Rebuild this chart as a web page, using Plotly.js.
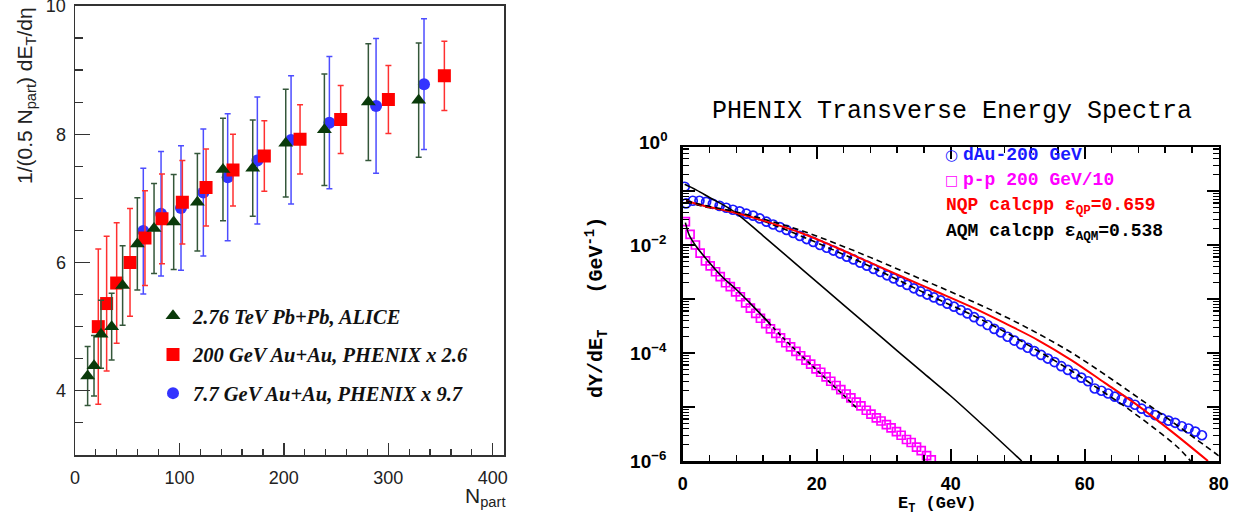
<!DOCTYPE html>
<html><head><meta charset="utf-8">
<script src="https://cdn.plot.ly/plotly-3.0.1.min.js"></script>
<style>html,body{margin:0;padding:0;background:#fff}#plot{width:1240px;height:516px}</style>
</head><body><div id="plot"></div>
<script>
// ---------- Left panel data ----------
const aliceNpart = [12.1,18.2,24.9,35.1,45.6,59.7,75.7,94.5,117.2,141.7,170.2,201.8,238.8,280.9,329.1];
const aliceVal   = [4.23,4.39,4.88,5.00,5.64,6.29,6.53,6.63,6.94,7.45,7.47,7.86,8.07,8.50,8.53];
const aliceErr   = [0.46,0.47,0.53,0.52,0.62,0.72,0.70,0.74,0.76,0.80,0.75,0.84,0.87,0.91,0.89];

const phx200Npart = [22.3,30.3,39.9,52.7,67.0,83.3,102.8,125.5,151.3,181.3,215.5,254.4,300.1,353.7];
const phx200Val   = [5.00,5.36,5.68,6.00,6.38,6.68,6.94,7.17,7.44,7.66,7.92,8.23,8.54,8.91];
const phx200Err   = [1.21,1.05,0.94,0.84,0.74,0.70,0.65,0.60,0.56,0.55,0.54,0.53,0.53,0.54];

const phx77Npart = [65.4,82.4,101.5,122.9,146.2,174.6,206.9,243.6,288.3,334.2];
const phx77Val   = [6.49,6.76,6.85,7.09,7.33,7.59,7.91,8.18,8.44,8.78];
const phx77Err   = [0.98,0.97,0.97,0.99,0.99,0.99,1.00,1.03,1.05,1.02];

const leftNames = ['2.76 TeV Pb+Pb, ALICE','200 GeV Au+Au, PHENIX x 2.6','7.7 GeV Au+Au, PHENIX x 9.7'];

// ---------- Right panel data ----------
const dAuET = [0.3,0.5,1.5,2.5,3.5,4.5,5.5,6.5,7.5,8.5,9.5,10.5,11.5,12.5,13.5,14.5,15.5,16.5,17.5,18.5,19.5,
  20.5,21.5,22.5,23.5,24.5,25.5,26.5,27.5,28.5,29.5,30.5,31.5,32.5,33.5,34.5,35.5,36.5,37.5,38.5,39.5,
  40.5,41.5,42.5,43.5,44.5,45.5,46.5,47.5,48.5,49.5,50.5,51.5,52.5,53.5,54.5,55.5,56.5,57.5,58.5,59.5,
  60.5,61.5,62.5,63.5,64.5,65.5,66.5,67.5,68.5,69.5,70.5,71.5,72.5,73.5,74.5,75.5,76.5,77.5];
const dAuY = [1.2e-1,5.9e-2,6.6e-2,6.6e-2,6.3e-2,5.8e-2,5.3e-2,4.9e-2,4.5e-2,4.2e-2,3.8e-2,3.5e-2,3.1e-2,2.7e-2,2.4e-2,2.15e-2,1.9e-2,1.67e-2,1.47e-2,1.29e-2,1.14e-2,
  1.0e-2,8.9e-3,7.9e-3,6.95e-3,6.1e-3,5.4e-3,4.7e-3,4.15e-3,3.6e-3,3.16e-3,2.75e-3,2.4e-3,2.1e-3,1.82e-3,1.58e-3,1.38e-3,1.21e-3,1.07e-3,9.4e-4,8.2e-4,
  7.2e-4,6.25e-4,5.4e-4,4.6e-4,3.9e-4,3.3e-4,2.8e-4,2.4e-4,2.0e-4,1.7e-4,1.45e-4,1.25e-4,1.08e-4,9.2e-5,7.9e-5,6.8e-5,5.7e-5,4.85e-5,4.1e-5,3.5e-5,
  3.0e-5,2.2e-5,2.0e-5,1.78e-5,1.55e-5,1.38e-5,1.23e-5,1.1e-5,9.3e-6,8.1e-6,7.1e-6,6.2e-6,5.6e-6,5.1e-6,4.4e-6,4.0e-6,3.5e-6,3.0e-6];

const ppET = [0.4,1.1,1.9,2.6,3.4,4.1,4.9,5.6,6.4,7.1,7.9,8.6,9.4,10.1,10.9,11.6,12.4,13.1,13.9,14.6,15.4,16.1,16.9,17.6,18.4,
  19.1,19.9,20.6,21.4,22.1,22.9,23.6,24.4,25.1,25.9,26.6,27.4,28.1,28.9,29.6,30.4,31.1,31.9,32.6,33.4,34.1,34.9,35.6,36.4,37.1];
const ppY = [2.7e-2,1.58e-2,1.0e-2,7.1e-3,5.1e-3,4.1e-3,3.2e-3,2.6e-3,2.0e-3,1.7e-3,1.35e-3,1.1e-3,8.5e-4,6.8e-4,5.4e-4,4.4e-4,3.5e-4,2.8e-4,2.3e-4,1.9e-4,1.55e-4,1.3e-4,1.07e-4,8.9e-5,7.4e-5,
  6.2e-5,5.1e-5,4.4e-5,3.6e-5,3.0e-5,2.5e-5,2.1e-5,1.74e-5,1.48e-5,1.23e-5,1.05e-5,8.7e-6,7.4e-6,6.3e-6,5.5e-6,4.7e-6,4.1e-6,3.5e-6,3.0e-6,2.5e-6,2.2e-6,1.8e-6,1.55e-6,1.26e-6,1.05e-6];

const nqpET = [0.5,3,8,13,18,23,28,33,38,43,48,53,58,63,68,73,78.4];
const nqpY  = [6.6e-2,5.4e-2,3.9e-2,2.6e-2,1.62e-2,8.9e-3,4.7e-3,2.5e-3,1.35e-3,7.2e-4,3.6e-4,1.74e-4,7.4e-5,2.8e-5,1.05e-5,3.5e-6,1.0e-6];

const aqmUpET = [0.5,3,8,13,18,23,28,33,38,43,48,53,58,63,68,73,78,80.2];
const aqmUpY  = [6.6e-2,5.5e-2,4.1e-2,2.8e-2,1.8e-2,1.05e-2,5.9e-3,3.2e-3,1.74e-3,9.3e-4,4.8e-4,2.3e-4,1.02e-4,4.0e-5,1.48e-5,5.4e-6,1.9e-6,1.2e-6];

const aqmLoET = [0.5,3,8,13,18,23,28,33,38,43,48,53,58,62,66,70,74,75.8];
const aqmLoY  = [6.3e-2,5.2e-2,4.0e-2,2.5e-2,1.41e-2,7.6e-3,4.0e-3,2.0e-3,1.0e-3,5.2e-4,2.5e-4,1.1e-4,4.7e-5,2.2e-5,1.02e-5,4.4e-6,1.74e-6,1.0e-6];

const steepET = [0.3,2,4,7.5,12,18,24,30,36,40,45,50.6];
const steepY  = [1.33e-1,1.05e-1,7.6e-2,4.3e-2,1.48e-2,3.4e-3,7.8e-4,1.8e-4,4.2e-5,1.6e-5,4.4e-6,1.0e-6];

const ppSolidET = [0.4,1,2,4,6,8,10,13];
const ppSolidY  = [2.6e-2,1.5e-2,9.5e-3,4.7e-3,2.5e-3,1.5e-3,8.5e-4,3.5e-4];

const ppDashET = [12,15,18,21,24,26];
const ppDashY  = [4.7e-4,1.9e-4,8.3e-5,3.7e-5,1.66e-5,9.5e-6];

const rightLegend = ['dAu-200 GeV','p-p 200 GeV/10','NQP calcpp ε<sub>QP</sub>=0.659','AQM calcpp ε<sub>AQM</sub>=0.538'];
const rightYTicks = [1e-6,1e-5,1e-4,1e-3,1e-2,1e-1];
const rightYTickText = ['10<sup>−6</sup>','','10<sup>−4</sup>','','10<sup>−2</sup>',''];

// ---------- geometry helpers (pixel -> paper) ----------
const W = 1240, H = 516;
const px = v => v / W, py = v => 1 - v / H;

const ebar = (arr, col) => ({type:'data', array: arr, visible:true, color: col, thickness:1.5, width:3});

const traces = [
  {x: phx77Npart, y: phx77Val, error_y: ebar(phx77Err,'#4d4dff'), mode:'markers', type:'scatter',
   name: leftNames[2], legendrank: 3, legendgroup:'c',
   marker:{symbol:'circle', size:12, color:'#3333ff'}, xaxis:'x', yaxis:'y'},
  {x: phx200Npart, y: phx200Val, error_y: ebar(phx200Err,'#ff3030'), mode:'markers', type:'scatter',
   name: leftNames[1], legendrank: 2, legendgroup:'b',
   marker:{symbol:'square', size:13, color:'#ff0000'}, xaxis:'x', yaxis:'y'},
  {x: aliceNpart, y: aliceVal, error_y: ebar(aliceErr,'#34573a'), mode:'markers', type:'scatter',
   name: leftNames[0], legendrank: 1, legendgroup:'a',
   marker:{symbol:'triangle-up', size:13, color:'#0a3a0a'}, xaxis:'x', yaxis:'y'},

  {x: dAuET, y: dAuY, mode:'markers', type:'scatter', showlegend:false, xaxis:'x2', yaxis:'y2',
   marker:{symbol:'circle-open', size:9, color:'#1a1aff', line:{width:1.7}}},
  {x: ppET, y: ppY, mode:'markers', type:'scatter', showlegend:false, xaxis:'x2', yaxis:'y2',
   marker:{symbol:'square-open', size:8, color:'#ff00ff', line:{width:1.7}}},
  {x: steepET, y: steepY, mode:'lines', type:'scatter', showlegend:false, xaxis:'x2', yaxis:'y2',
   line:{color:'#000', width:1.6, shape:'spline'}},
  {x: ppSolidET, y: ppSolidY, mode:'lines', type:'scatter', showlegend:false, xaxis:'x2', yaxis:'y2',
   line:{color:'#000', width:1.6, shape:'spline'}},
  {x: ppDashET, y: ppDashY, mode:'lines', type:'scatter', showlegend:false, xaxis:'x2', yaxis:'y2',
   line:{color:'#000', width:1.6, dash:'4px,3px', shape:'spline'}},
  {x: aqmLoET, y: aqmLoY, mode:'lines', type:'scatter', showlegend:false, xaxis:'x2', yaxis:'y2',
   line:{color:'#000', width:1.6, dash:'6px,4px', shape:'spline'}},
  {x: nqpET, y: nqpY, mode:'lines', type:'scatter', showlegend:false, xaxis:'x2', yaxis:'y2',
   line:{color:'#ff0000', width:2, shape:'spline'}},
  {x: aqmUpET, y: aqmUpY, mode:'lines', type:'scatter', showlegend:false, xaxis:'x2', yaxis:'y2',
   line:{color:'#000', width:1.6, dash:'6px,4px', shape:'spline'}},
];

const rightYMinor = [];
for (let d = -6; d <= -1; d++) for (let m = 2; m <= 9; m++) rightYMinor.push(m * Math.pow(10, d));

const sans = 'Liberation Sans, Arial, sans-serif';
const mono = 'Liberation Mono, Courier New, monospace';

const layout = {
  width: W, height: H, margin:{l:0,r:0,t:0,b:0}, paper_bgcolor:'#fff', plot_bgcolor:'#fff',
  showlegend: true,
  legend: {x: px(153), y: py(296), xanchor:'left', yanchor:'top', bgcolor:'rgba(0,0,0,0)',
    font:{family:'Liberation Serif, Times New Roman, serif', size:20.5, weight:'bold', style:'italic', color:'#111'},
    tracegroupgap: 9, itemwidth: 30, traceorder:'grouped'},
  xaxis: {domain:[px(75), px(504)], range:[0, 410.8], anchor:'y', showgrid:false, zeroline:false,
    showline:true, mirror:true, linecolor:'#333', linewidth:1.5,
    ticks:'inside', ticklen:12, tickwidth:1.3, tickcolor:'#333', dtick:100, tick0:0,
    minor:{dtick:20, ticklen:6, ticks:'inside', tickcolor:'#333', tickwidth:1.2},
    tickfont:{family:sans, size:18, color:'#222'}, ticklabelstandoff:6},
  yaxis: {domain:[1-455/H, 1-5.7/H], range:[2.999, 10.003], anchor:'x', showgrid:false, zeroline:false,
    showline:true, mirror:true, linecolor:'#333', linewidth:1.5,
    ticks:'inside', ticklen:15, tickwidth:1.3, tickcolor:'#333', tickmode:'array', tickvals:[4,6,8,10],
    minor:{tickmode:'array', tickvals:[3.5,4.5,5,5.5,6.5,7,7.5,8.5,9,9.5], ticklen:8, ticks:'inside', tickcolor:'#333', tickwidth:1.2},
    tickfont:{family:sans, size:18, color:'#222'}, ticklabelstandoff:4, ticklabeloverflow:'allow'},
  xaxis2: {domain:[px(682.7), px(1218.7)], range:[0, 80], anchor:'y2', showgrid:false, zeroline:false,
    showline:true, mirror:'allticks', linecolor:'#000', linewidth:2.5,
    ticks:'inside', ticklen:12, tickwidth:2, tickcolor:'#000', dtick:20, tick0:0,
    minor:{dtick:4, ticklen:6, ticks:'inside', tickcolor:'#000', tickwidth:1.5},
    tickfont:{family:sans, size:18, color:'#000', weight:'bold'}, ticklabelstandoff:5},
  yaxis2: {domain:[1-461/H, 1-147/H], type:'log', range:[-6, -0.185], anchor:'x2', showgrid:false, zeroline:false,
    showline:true, mirror:'allticks', linecolor:'#000', linewidth:2.5,
    ticks:'inside', ticklen:12, tickwidth:2, tickcolor:'#000',
    tickmode:'array', tickvals: rightYTicks, ticktext: rightYTickText,
    minor:{tickmode:'array', tickvals: rightYMinor, ticklen:6, ticks:'inside', tickcolor:'#000', tickwidth:1.3},
    tickfont:{family:sans, size:19, color:'#000', weight:'bold'}, ticklabelstandoff:10},
  annotations: [
    {text:'1/(0.5 N<sub>part</sub>) dE<sub>T</sub>/dη', xref:'paper', yref:'paper', x:px(26), y:py(96),
     xanchor:'center', yanchor:'middle', textangle:-90, showarrow:false, font:{family:sans, size:21, color:'#222'}},
    {text:'N<sub>part</sub>', xref:'paper', yref:'paper', x:px(507), y:py(497),
     xanchor:'right', yanchor:'middle', showarrow:false, font:{family:sans, size:21, color:'#222'}},
    {text:'PHENIX Transverse Energy Spectra', xref:'paper', yref:'paper', x:px(952), y:py(112),
     xanchor:'center', yanchor:'middle', showarrow:false, font:{family:mono, size:25, color:'#000'}},
    {text:'dY/dE<sub>T</sub>   (GeV<sup>-1</sup>)', xref:'paper', yref:'paper', x:px(596), y:py(308),
     xanchor:'center', yanchor:'middle', textangle:-90, showarrow:false, font:{family:mono, size:20, color:'#000', weight:'bold'}},
    {text:'E<sub>T</sub> (GeV)', xref:'paper', yref:'paper', x:px(937), y:py(505),
     xanchor:'center', yanchor:'middle', showarrow:false, font:{family:mono, size:17, color:'#000', weight:'bold'}},
    {text:'10<sup>0</sup>', xref:'paper', yref:'paper', x:px(670), y:py(141),
     xanchor:'right', yanchor:'middle', showarrow:false, font:{family:sans, size:19, color:'#000', weight:'bold'}},
    {text:'○', xref:'paper', yref:'paper', x:px(951), y:py(155), xanchor:'center', yanchor:'middle', showarrow:false,
     font:{family:'DejaVu Sans', size:15, color:'#1a1aff'}},
    {text:rightLegend[0], xref:'paper', yref:'paper', x:px(961), y:py(155), xanchor:'left', yanchor:'middle', showarrow:false,
     font:{family:mono, size:18, color:'#1a1aff', weight:'bold'}},
    {text:'□', xref:'paper', yref:'paper', x:px(951), y:py(180), xanchor:'center', yanchor:'middle', showarrow:false,
     font:{family:'DejaVu Sans', size:14, color:'#ff00ff'}},
    {text:rightLegend[1], xref:'paper', yref:'paper', x:px(961), y:py(180), xanchor:'left', yanchor:'middle', showarrow:false,
     font:{family:mono, size:18, color:'#ff00ff', weight:'bold'}},
    {text:rightLegend[2], xref:'paper', yref:'paper', x:px(944), y:py(206), xanchor:'left', yanchor:'middle', showarrow:false,
     font:{family:mono, size:18, color:'#ff0000', weight:'bold'}},
    {text:rightLegend[3], xref:'paper', yref:'paper', x:px(944), y:py(232), xanchor:'left', yanchor:'middle', showarrow:false,
     font:{family:mono, size:18, color:'#000', weight:'bold'}},
  ]
};

Plotly.newPlot('plot', traces, layout, {displayModeBar:false, staticPlot:true});
</script></body></html>
